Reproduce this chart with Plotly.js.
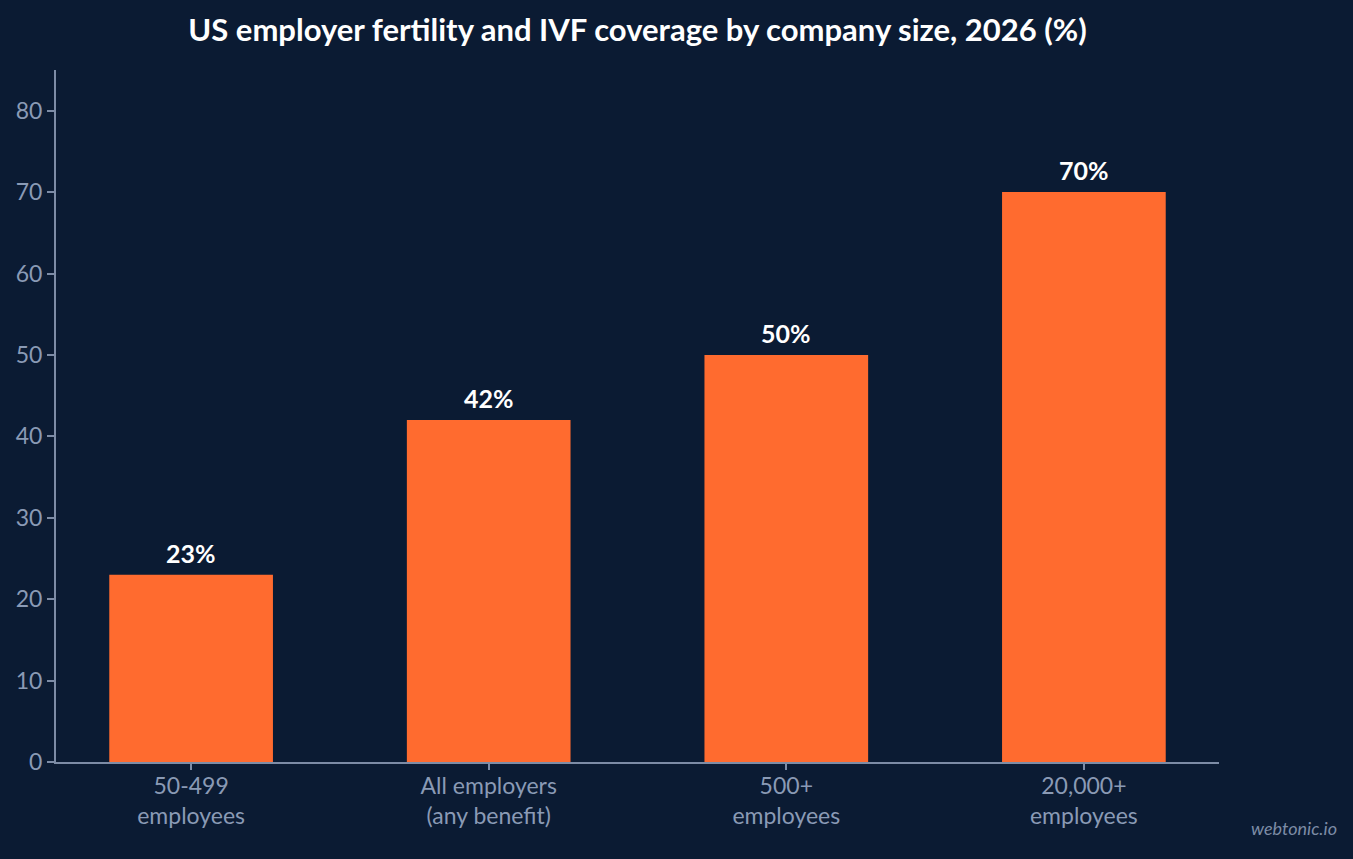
<!DOCTYPE html>
<html>
<head>
<meta charset="utf-8">
<script src="https://cdn.plot.ly/plotly-3.0.1.min.js"></script>
<style>
html,body{margin:0;padding:0;background:#0b1b33;}
#chart{width:1353px;height:859px;}
</style>
</head>
<body>
<div id="chart"></div>
<script>
const categories = ["50-499<br>employees", "All employers<br>(any benefit)", "500+<br>employees", "20,000+<br>employees"];
const coverage = [23, 42, 50, 70];
const barLabels = ["23%", "42%", "50%", "70%"];
const yTicks = [0, 10, 20, 30, 40, 50, 60, 70, 80];

const axisColor = "#7d8ca6";
const tickFontColor = "#8a9ab5";
const font = "Lato, 'Open Sans', sans-serif";

const trace = {
  type: "bar",
  x: categories,
  y: coverage,
  marker: {color: "#ff6b2f"},
  width: 0.55,
  hoverinfo: "skip"
};

const labelAnnotations = categories.map((c, i) => ({
  x: c, y: coverage[i], xref: "x", yref: "y",
  text: "<b>" + barLabels[i] + "</b>",
  showarrow: false, xanchor: "center", yanchor: "bottom", yshift: 5,
  font: {family: font, size: 25, color: "#ffffff"}
}));

const layout = {
  width: 1353, height: 859,
  paper_bgcolor: "#0b1b33",
  plot_bgcolor: "#0b1b33",
  margin: {l: 56, r: 134, t: 70, b: 97},
  title: {
    text: "<b>US employer fertility and IVF coverage by company size, 2026 (%)</b>",
    font: {family: font, size: 31, color: "#ffffff"},
    x: 0.5, xref: "paper", xanchor: "center",
    y: 0.965, yref: "container", yanchor: "middle"
  },
  showlegend: false,
  xaxis: {
    type: "category",
    range: [-0.454, 3.454],
    showline: true, linecolor: axisColor, linewidth: 2,
    ticks: "outside", ticklen: 6, tickcolor: axisColor, tickwidth: 2,
    tickfont: {family: font, size: 23, color: tickFontColor},
    ticklabelstandoff: -4,
    showgrid: false, zeroline: false, fixedrange: true
  },
  yaxis: {
    range: [0, 85],
    tickvals: yTicks,
    showline: true, linecolor: axisColor, linewidth: 2,
    ticks: "outside", ticklen: 7, tickcolor: axisColor, tickwidth: 2,
    tickfont: {family: font, size: 23, color: tickFontColor},
    showgrid: false, zeroline: false, fixedrange: true
  },
  annotations: labelAnnotations.concat([{
    text: "<i>webtonic.io</i>",
    xref: "paper", yref: "paper",
    x: 1.103, y: -0.095, xanchor: "right", yanchor: "middle",
    showarrow: false,
    font: {family: font, size: 18, color: "#7d8ca6"}
  }])
};

Plotly.newPlot("chart", [trace], layout, {displayModeBar: false, staticPlot: true});
</script>
</body>
</html>
